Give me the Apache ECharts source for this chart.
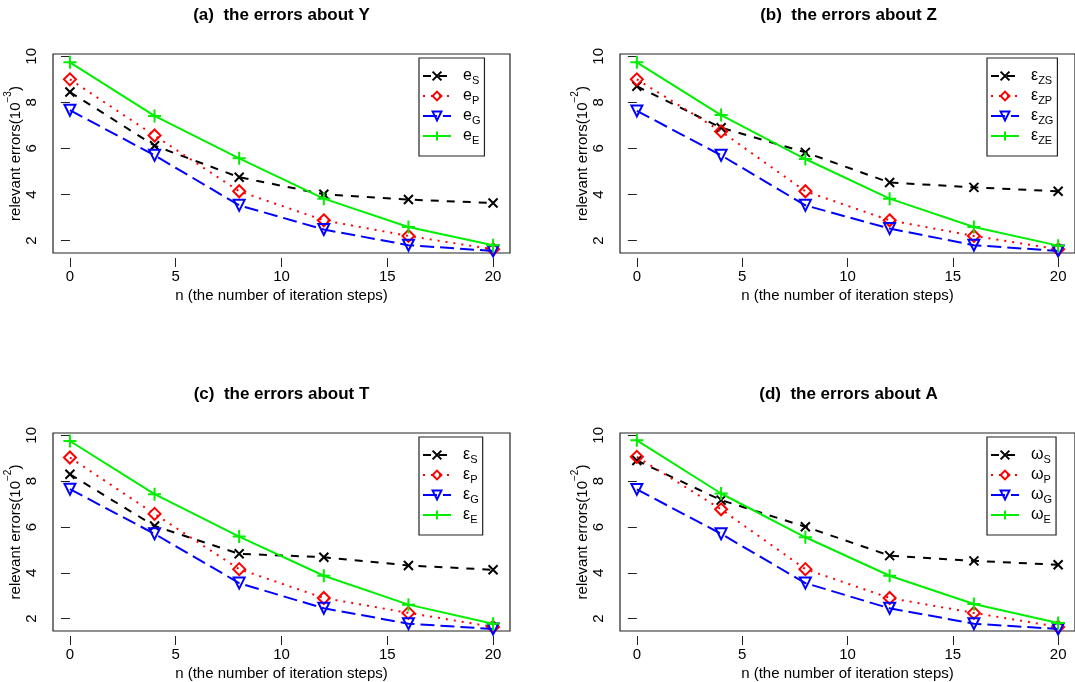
<!DOCTYPE html>
<html><head><meta charset="utf-8">
<script src="https://cdn.jsdelivr.net/npm/echarts@6/dist/echarts.min.js"></script>
<style>html,body{margin:0;padding:0;background:#fff}#c{width:1075px;height:682px}</style>
</head><body><div id="c"></div>
<script>
const xs = [0, 4, 8, 12, 16, 20];
const xTicks = [0, 5, 10, 15, 20];
const yTicks = [2, 4, 6, 8, 10];

const titles = ['(a)  the errors about Y', '(b)  the errors about Z', '(c)  the errors about T', '(d)  the errors about A'];
const yExp = ['\u22123', '\u22122', '\u22122', '\u22122'];

const a_S = [8.45, 6.12, 4.75, 4.01, 3.78, 3.63];
const a_P = [9.00, 6.56, 4.14, 2.88, 2.20, 1.62];
const a_G = [7.66, 5.70, 3.53, 2.48, 1.80, 1.55];
const a_E = [9.74, 7.41, 5.57, 3.82, 2.59, 1.80];

const b_S = [8.70, 6.90, 5.83, 4.52, 4.31, 4.14];
const b_P = [9.00, 6.74, 4.14, 2.88, 2.20, 1.62];
const b_G = [7.63, 5.70, 3.53, 2.52, 1.80, 1.55];
const b_E = [9.74, 7.45, 5.54, 3.82, 2.59, 1.78];

const c_S = [8.30, 6.04, 4.83, 4.68, 4.32, 4.13];
const c_P = [9.03, 6.57, 4.16, 2.90, 2.25, 1.64];
const c_G = [7.65, 5.70, 3.55, 2.45, 1.78, 1.55];
const c_E = [9.75, 7.43, 5.58, 3.87, 2.61, 1.78];

const d_S = [8.90, 7.17, 6.01, 4.75, 4.52, 4.35];
const d_P = [9.06, 6.77, 4.16, 2.90, 2.25, 1.64];
const d_G = [7.64, 5.70, 3.55, 2.45, 1.78, 1.55];
const d_E = [9.78, 7.46, 5.55, 3.87, 2.64, 1.81];

// legend labels: [main symbol, subscript]
const legA = [['e', 'S'], ['e', 'P'], ['e', 'G'], ['e', 'E']];
const legB = [['\u03B5', 'ZS'], ['\u03B5', 'ZP'], ['\u03B5', 'ZG'], ['\u03B5', 'ZE']];
const legC = [['\u03B5', 'S'], ['\u03B5', 'P'], ['\u03B5', 'G'], ['\u03B5', 'E']];
const legD = [['\u03C9', 'S'], ['\u03C9', 'P'], ['\u03C9', 'G'], ['\u03C9', 'E']];

const panelData = [[a_S, a_P, a_G, a_E], [b_S, b_P, b_G, b_E], [c_S, c_P, c_G, c_E], [d_S, d_P, d_G, d_E]];
const panelLeg = [legA, legB, legC, legD];

const FONT = 'Liberation Sans, Arial, Helvetica, sans-serif';
const grids = [
  {left: 53, top: 54, width: 457, height: 199},
  {left: 620, top: 54, width: 457, height: 199},
  {left: 53, top: 433, width: 457, height: 198},
  {left: 620, top: 433, width: 457, height: 198}
];
const legendPos = [
  {left: 419, top: 58}, {left: 987, top: 58}, {left: 419, top: 437}, {left: 987, top: 437}
];

const styles = [
  {symbol: 'path://M0,0L10,10M10,0L0,10', size: 9, color: '#000000', fill: '#000000', dash: [8, 8]},
  {symbol: 'diamond', size: 12, color: '#ff0000', fill: 'rgba(255,255,255,0)', dash: [2, 6]},
  {symbol: 'triangle', size: 11, color: '#0000ff', fill: 'rgba(255,255,255,0)', dash: [14, 6], rotate: 180},
  {symbol: 'path://M5,0L5,10M0,5L10,5', size: 13, color: '#00ee00', fill: '#00ee00', dash: 'solid'}
];

const option = {
  animation: false,
  backgroundColor: '#ffffff',
  grid: grids.map(g => Object.assign({show: true, borderColor: '#222', borderWidth: 1.2, backgroundColor: 'transparent'}, g)),
  xAxis: grids.map((g, i) => ({
    gridIndex: i, type: 'value', min: -0.8, max: 20.8, offset: 5,
    name: 'n (the number of iteration steps)', nameLocation: 'middle', nameGap: 30,
    nameTextStyle: {fontFamily: FONT, fontSize: 15, color: '#000'},
    axisLine: {show: false},
    axisTick: {show: true, length: 9, customValues: xTicks, lineStyle: {color: '#222', width: 1}},
    axisLabel: {customValues: xTicks, fontFamily: FONT, fontSize: 15, color: '#000', margin: 11},
    splitLine: {show: false}
  })),
  yAxis: grids.map((g, i) => ({
    gridIndex: i, type: 'value', min: 1.46, max: 10.1,
    name: '{t|relevant errors(10}{s|' + yExp[i] + '}{t|)}', nameLocation: 'middle', nameGap: 24, nameRotate: 90,
    nameTextStyle: {rich: {
      t: {fontFamily: FONT, fontSize: 15, color: '#000', lineHeight: 20, verticalAlign: 'bottom'},
      s: {fontFamily: FONT, fontSize: 10, color: '#000', lineHeight: 20, verticalAlign: 'top'}
    }},
    axisLine: {show: false},
    axisTick: {show: true, length: 9, customValues: yTicks, lineStyle: {color: '#222', width: 1}},
    axisLabel: {customValues: yTicks, rotate: 90, fontFamily: FONT, fontSize: 15, color: '#000', margin: 14},
    splitLine: {show: false}
  })),
  legend: panelLeg.map((leg, i) => ({
    orient: 'vertical', left: legendPos[i].left, top: legendPos[i].top,
    data: leg.map(l => l[0] + l[1]),
    formatter: name => {
      const l = leg.find(q => q[0] + q[1] === name);
      return '{m|' + l[0] + '}{s|' + l[1] + '}';
    },
    itemWidth: 28, itemHeight: 11, itemGap: 2,
    padding: [10, 4, 10, 3],
    borderColor: '#222', borderWidth: 1.2, backgroundColor: '#fff',
    textStyle: {padding: [0, 0, 0, 7], rich: {
      m: {fontFamily: FONT, fontSize: 16, color: '#000', lineHeight: 20, verticalAlign: 'middle'},
      s: {fontFamily: FONT, fontSize: 11, color: '#000', lineHeight: 20, verticalAlign: 'bottom'}
    }},
    selectedMode: false
  })),
  graphic: titles.map((t, i) => ({
    type: 'text', x: grids[i].left + 228.5, y: grids[i].top - 39,
    style: {text: t, fontFamily: FONT, fontSize: 17, fontWeight: 'bold', fill: '#000', textAlign: 'center', textVerticalAlign: 'middle'}
  })),
  series: []
};

panelData.forEach((set, i) => {
  set.forEach((vals, k) => {
    const st = styles[k];
    option.series.push({
      type: 'line', name: panelLeg[i][k][0] + panelLeg[i][k][1],
      xAxisIndex: i, yAxisIndex: i,
      data: xs.map((x, j) => [x, vals[j]]),
      symbol: st.symbol, symbolSize: st.size, symbolRotate: st.rotate || 0,
      itemStyle: {color: st.fill, borderColor: st.color, borderWidth: 2},
      lineStyle: {color: st.color, width: 2, type: st.dash},
      clip: false, z: 2 + k
    });
  });
});

const chart = echarts.init(document.getElementById('c'), null, {renderer: 'canvas'});
chart.setOption(option);
</script></body></html>
